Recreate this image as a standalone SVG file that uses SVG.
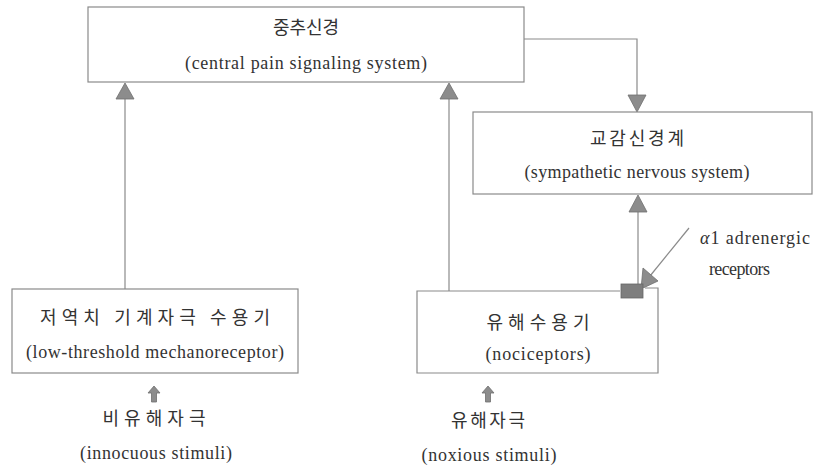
<svg xmlns="http://www.w3.org/2000/svg" width="813" height="473" viewBox="0 0 813 473">
<defs>
<style>
.box{fill:#fff;stroke:#8a8a8a;stroke-width:1.2}
.ln{fill:none;stroke:#8a8a8a;stroke-width:1.2}
.ah{fill:#8c8c8c;stroke:#6e6e6e;stroke-width:0.8}
.ko{font-family:"Noto Sans CJK KR","Noto Sans",sans-serif;font-size:18px;fill:#333;text-anchor:middle}
.en{font-family:"Liberation Serif","DejaVu Serif",serif;font-size:18px;fill:#333;text-anchor:middle}
.lb{font-family:"Liberation Serif","DejaVu Serif",serif;font-size:18px;fill:#333}
</style>
</defs>
<rect width="813" height="473" fill="#fff"/>
<g id="connectors">
<line class="ln" x1="125" y1="289" x2="125" y2="98"/>
<polygon class="ah" points="125,83 116,99 134,99"/>
<line class="ln" x1="449" y1="291" x2="449" y2="98"/>
<polygon class="ah" points="449,83 440,99 458,99"/>
<polyline class="ln" points="524,39 637,39 637,96"/>
<polygon class="ah" points="637,112 628,95 646,95"/>
<line class="ln" x1="638" y1="284" x2="638" y2="212"/>
<polygon class="ah" points="638,195 629,212 647,212"/>
<line class="ln" x1="689" y1="228" x2="650" y2="276"/>
<polygon class="ah" points="641,289 643,268 658,281"/>
<polygon class="ah" points="154,386 148,393 151.5,393 151.5,402 156.5,402 156.5,393 160,393"/>
<polygon class="ah" points="488,386 482,393 485.5,393 485.5,402 490.5,402 490.5,393 494,393"/>
</g>
<g id="central">
<rect class="box" x="88" y="7" width="436" height="75"/>
<text class="ko" x="306" y="34" textLength="66" lengthAdjust="spacing">중추신경</text>
<text class="en" x="306" y="69" textLength="242" lengthAdjust="spacing">(central pain signaling system)</text>
</g>
<g id="sympathetic">
<rect class="box" x="473" y="112" width="339" height="82"/>
<text class="ko" x="637" y="145" textLength="94" lengthAdjust="spacing">교감신경계</text>
<text class="en" x="637" y="178" textLength="225" lengthAdjust="spacing">(sympathetic nervous system)</text>
</g>
<g id="lowthreshold">
<rect class="box" x="12" y="289" width="286" height="84"/>
<text class="ko" x="155" y="324" textLength="230" lengthAdjust="spacing">저역치 기계자극 수용기</text>
<text class="en" x="155" y="358" textLength="258" lengthAdjust="spacing">(low-threshold mechanoreceptor)</text>
</g>
<g id="nociceptors">
<polyline class="box" points="620,291 417,291 417,373 658,373 658,288 645,288"/>
<text class="ko" x="538" y="329" textLength="103" lengthAdjust="spacing">유해수용기</text>
<text class="en" x="538" y="360" textLength="105" lengthAdjust="spacing">(nociceptors)</text>
</g>
<g id="receptor">
<rect x="621" y="284" width="22" height="14" fill="#7e7e7e" stroke="#666" stroke-width="0.8"/>
<text class="lb" x="700" y="244" textLength="110" lengthAdjust="spacing"><tspan font-style="italic">α</tspan>1 adrenergic</text>
<text class="lb" x="709" y="275" textLength="61" lengthAdjust="spacing">receptors</text>
</g>
<g id="innocuous">
<text class="ko" x="154" y="425" textLength="103" lengthAdjust="spacing">비유해자극</text>
<text class="en" x="156" y="459" textLength="152" lengthAdjust="spacing">(innocuous stimuli)</text>
</g>
<g id="noxious">
<text class="ko" x="488" y="427" textLength="74" lengthAdjust="spacing">유해자극</text>
<text class="en" x="489" y="461" textLength="135" lengthAdjust="spacing">(noxious stimuli)</text>
</g>
</svg>
